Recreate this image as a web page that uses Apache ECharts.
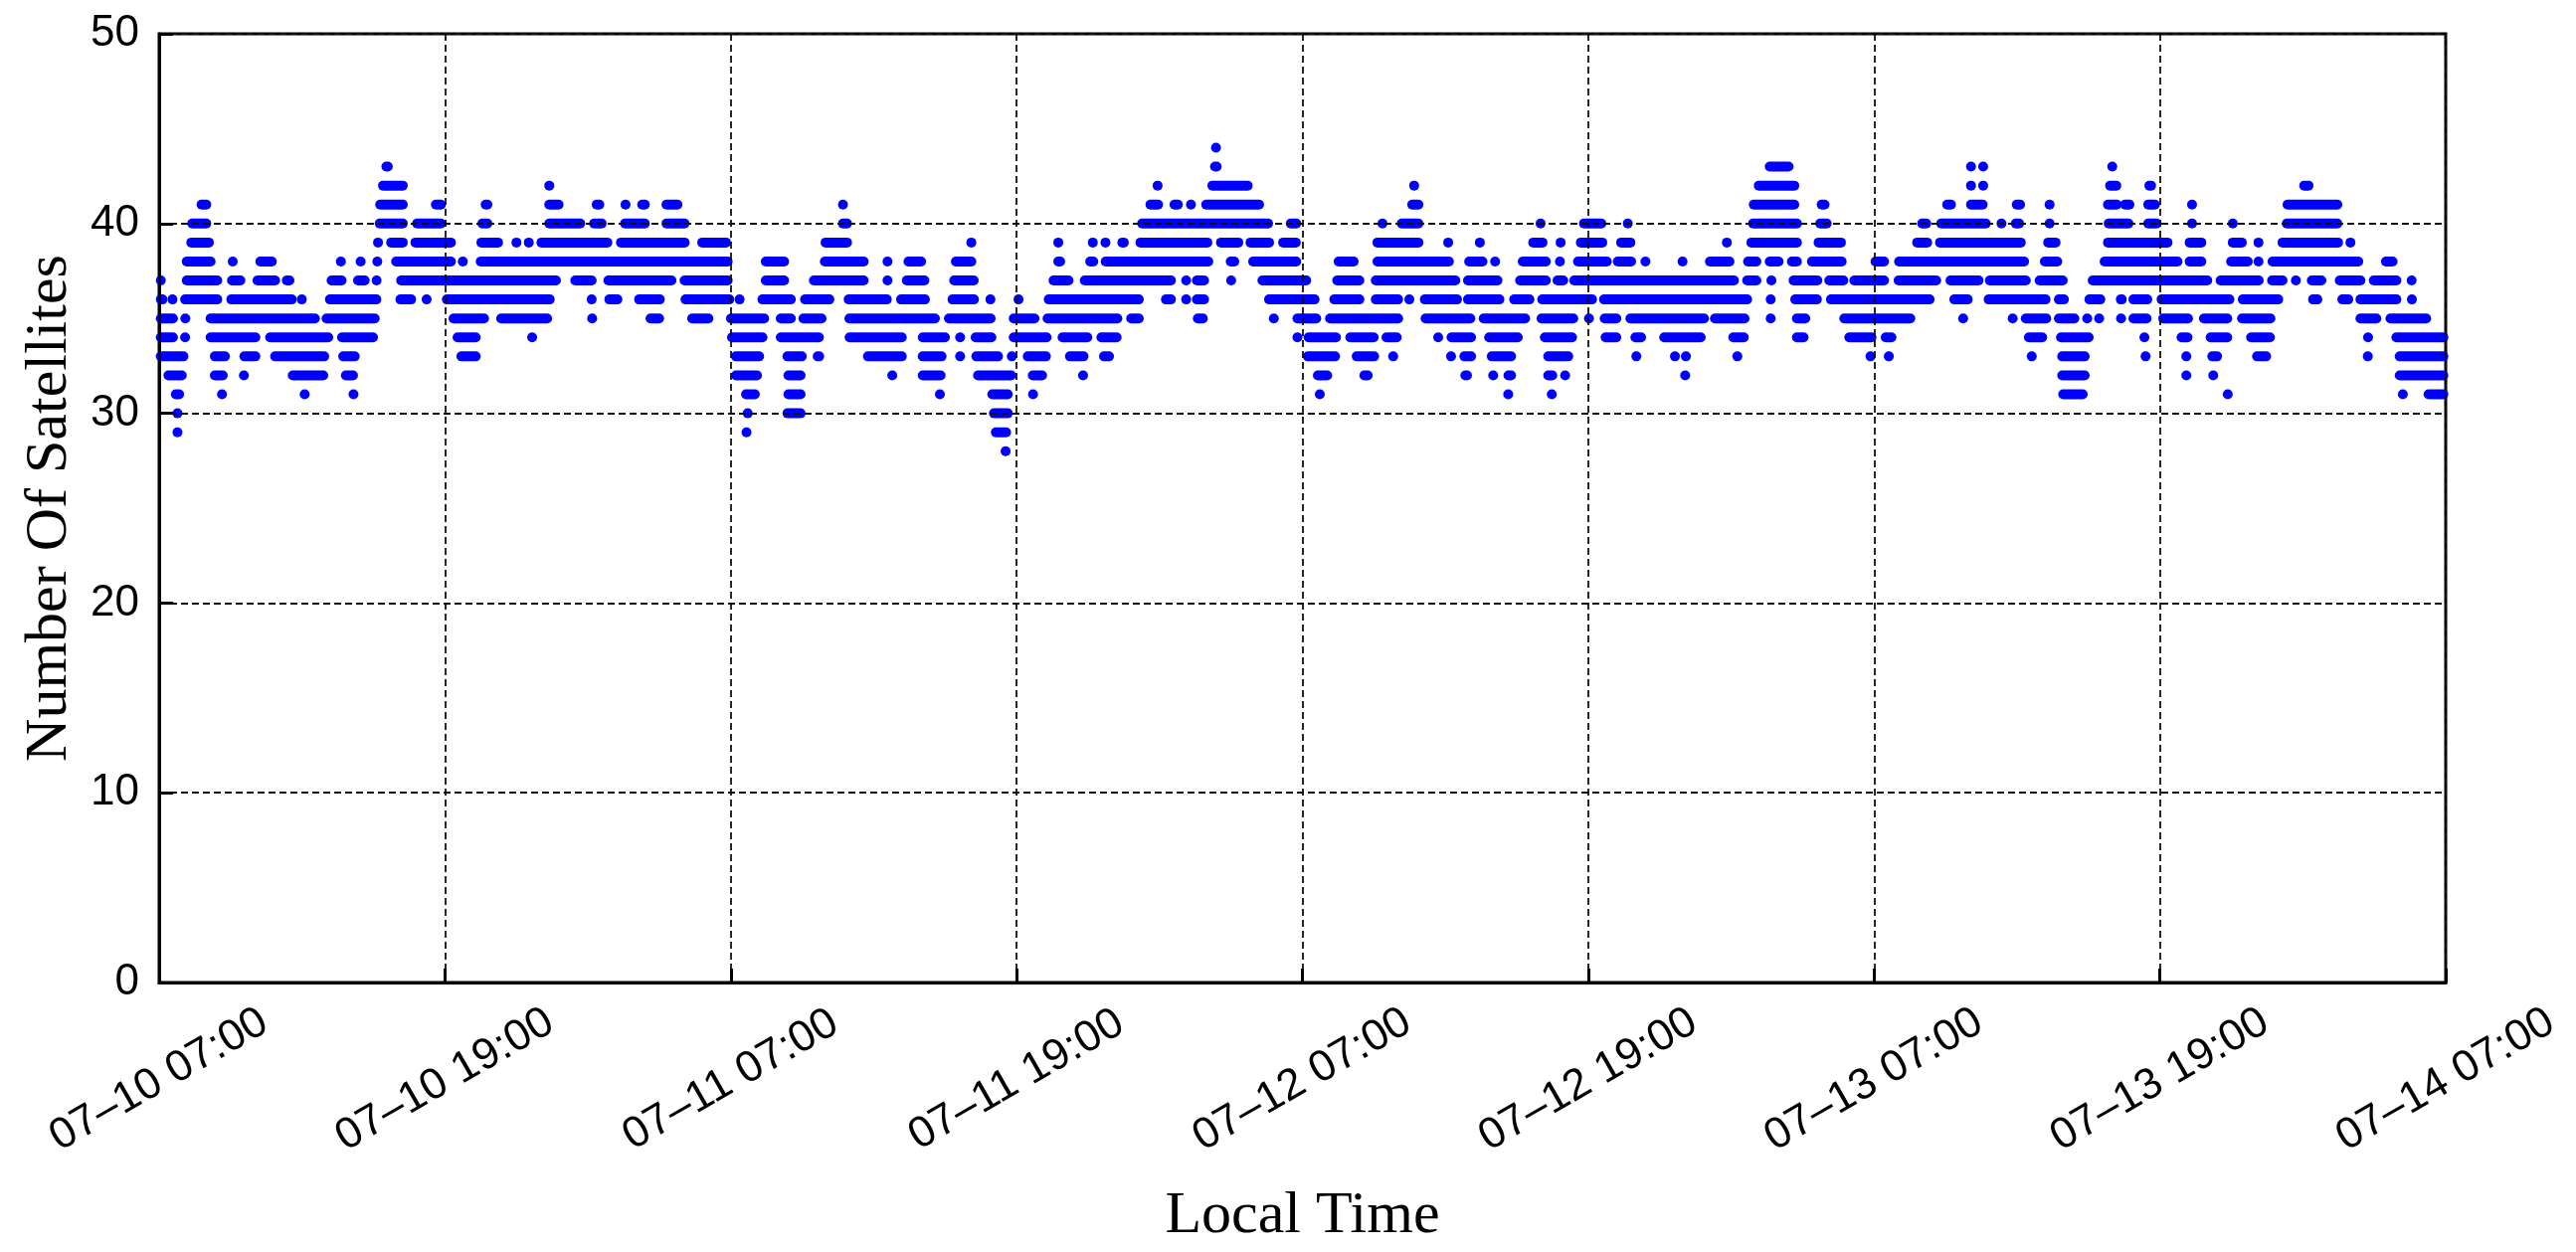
<!DOCTYPE html>
<html>
<head>
<meta charset="utf-8">
<script src="https://cdn.jsdelivr.net/npm/echarts@6/dist/echarts.min.js"></script>
<style>
html,body{margin:0;padding:0;background:#fff;}
#chart{width:2590px;height:1259px;}
</style>
</head>
<body>
<div id="chart"></div>
<script>
// Time in hours since 07-10 07:00 (local). Each entry: [first sample, last sample] of a run at that satellite count.
const xTickLabels = ['07\u201310 07:00','07\u201310 19:00','07\u201311 07:00','07\u201311 19:00','07\u201312 07:00','07\u201312 19:00','07\u201313 07:00','07\u201313 19:00','07\u201314 07:00'];

const sats44 = [[44.37,44.37]];
const sats43 = [[9.54,9.60],[44.33,44.40],[67.62,68.41],[76.07,76.07],[76.58,76.58],[82.00,82.00]];
const sats42 = [[9.40,10.23],[16.38,16.38],[41.92,41.92],[44.22,45.70],[52.69,52.69],[67.16,68.65],[76.07,76.07],[76.58,76.58],[81.91,82.17],[83.56,83.63],[90.06,90.24]];
const sats41 = [[1.78,1.98],[9.28,10.23],[11.62,11.83],[13.71,13.78],[16.38,16.77],[18.37,18.48],[19.58,19.58],[20.28,20.39],[21.30,21.76],[28.71,28.71],[41.62,41.94],[42.63,42.77],[43.32,43.32],[43.96,46.18],[52.61,52.87],[66.95,68.65],[69.80,69.92],[75.07,75.23],[76.07,76.56],[77.99,78.13],[79.37,79.37],[81.82,82.19],[82.54,82.72],[83.51,83.79],[85.35,85.35],[89.36,91.45]];
const sats40 = [[1.39,1.98],[9.26,10.23],[10.83,11.83],[13.57,13.78],[16.38,17.68],[18.26,18.58],[19.56,20.39],[21.30,22.06],[28.71,28.88],[41.27,46.56],[47.51,47.74],[51.36,51.36],[52.17,52.87],[58.00,58.00],[59.82,60.55],[61.66,61.66],[66.92,68.76],[69.74,70.01],[74.02,74.19],[74.82,76.69],[77.35,77.35],[77.95,78.09],[79.37,79.37],[81.85,82.68],[83.51,83.86],[85.35,85.35],[87.06,87.06],[89.33,91.45]];
const sats39 = [[1.35,2.09],[9.19,9.19],[9.74,10.23],[10.76,12.25],[13.53,14.23],[15.00,15.00],[15.52,15.52],[16.05,18.82],[19.39,22.06],[22.80,23.80],[27.98,28.88],[34.10,34.10],[37.75,37.75],[39.20,39.20],[39.73,39.73],[40.44,40.50],[41.20,44.01],[44.58,45.31],[45.82,46.60],[47.19,47.72],[51.15,52.87],[54.12,54.12],[55.45,55.45],[57.69,58.08],[58.84,58.84],[59.69,60.59],[61.38,61.77],[65.82,65.82],[66.85,68.76],[69.67,70.61],[73.81,74.23],[74.77,78.16],[79.31,79.62],[81.82,84.32],[85.25,85.74],[87.06,87.44],[88.14,88.14],[89.15,91.48],[92.00,92.00]];
const sats38 = [[1.16,2.16],[3.09,3.09],[4.25,4.73],[7.63,7.63],[8.46,8.46],[9.16,9.16],[9.95,12.25],[12.75,12.75],[13.50,23.87],[25.47,26.24],[27.95,29.58],[30.58,30.58],[31.46,31.99],[33.45,34.10],[37.75,37.83],[39.09,39.22],[39.74,44.05],[44.99,45.14],[45.93,47.74],[49.52,50.15],[51.15,54.15],[55.00,55.56],[56.09,56.09],[57.25,58.22],[58.81,58.81],[59.57,60.78],[61.24,61.80],[62.40,62.40],[63.96,63.96],[65.11,65.93],[66.71,67.06],[67.62,67.99],[68.55,68.76],[69.39,70.64],[72.06,72.42],[73.05,78.30],[79.17,79.69],[81.68,84.74],[85.25,85.74],[86.99,87.69],[88.14,88.14],[88.73,92.33],[93.49,93.77]];
const sats37 = [[0.07,0.07],[1.16,2.44],[3.06,3.41],[4.13,4.87],[5.36,5.47],[7.24,7.66],[8.35,8.63],[9.13,9.13],[10.16,16.66],[17.47,18.16],[18.86,21.51],[22.06,23.87],[25.47,26.24],[27.49,29.58],[30.58,30.58],[31.39,32.13],[33.38,34.20],[37.55,38.18],[38.86,42.48],[43.12,43.12],[43.57,43.87],[45.01,45.01],[46.32,48.16],[49.46,50.39],[51.08,54.42],[54.95,56.19],[57.14,58.22],[58.71,58.95],[59.41,66.12],[66.67,67.06],[67.69,67.69],[68.62,69.62],[70.12,70.71],[71.17,72.42],[73.03,74.61],[75.21,76.39],[76.86,78.37],[78.95,79.92],[81.18,85.99],[86.55,88.15],[88.71,89.15],[89.71,89.71],[90.38,90.78],[91.55,92.42],[92.98,93.93],[94.57,94.57]];
const sats36 = [[0.07,0.14],[0.56,0.56],[1.09,2.44],[3.03,5.57],[5.99,5.99],[7.17,9.12],[10.13,10.58],[11.23,11.23],[12.08,16.40],[18.16,18.16],[18.90,19.24],[20.15,21.02],[22.10,23.94],[24.37,24.37],[25.33,26.52],[27.12,28.14],[28.95,30.55],[31.15,32.15],[33.31,34.21],[34.90,34.90],[36.08,36.08],[37.35,41.13],[42.27,42.48],[43.12,43.12],[43.57,43.87],[46.60,48.51],[49.34,50.39],[51.08,52.02],[52.49,52.49],[53.14,54.49],[54.95,56.27],[56.89,57.53],[58.07,60.16],[60.66,66.67],[67.66,67.66],[68.69,69.60],[70.19,74.33],[75.37,75.93],[76.81,79.20],[79.76,79.97],[81.04,81.50],[82.36,82.40],[82.89,83.47],[84.07,86.92],[87.48,88.97],[90.43,90.61],[91.66,91.91],[92.42,93.93],[94.58,94.58]];
const sats35 = [[0.07,0.58],[1.10,1.10],[2.16,6.54],[7.03,9.05],[12.36,13.64],[14.36,16.29],[18.18,18.18],[20.63,20.99],[22.38,23.06],[24.01,25.40],[26.10,26.52],[27.05,27.81],[28.98,32.57],[33.16,34.91],[35.88,36.75],[37.30,40.23],[40.81,41.13],[43.61,43.82],[46.80,46.80],[47.79,48.58],[49.16,52.02],[53.17,55.05],[55.61,57.35],[58.04,59.37],[60.03,60.03],[60.69,61.18],[61.77,64.86],[65.32,66.56],[67.66,67.66],[68.76,69.11],[70.75,73.52],[75.74,75.74],[77.82,77.82],[78.37,79.23],[79.76,80.41],[80.95,80.95],[81.45,81.45],[82.37,82.37],[82.89,83.44],[84.14,85.18],[85.85,86.83],[87.45,88.64],[92.42,93.09],[93.68,95.18]];
const sats34 = [[0.07,0.58],[1.09,1.09],[2.16,4.04],[4.66,7.10],[7.68,8.98],[12.53,13.29],[15.66,15.66],[24.05,25.33],[26.10,27.70],[28.99,31.18],[32.06,32.99],[33.63,33.63],[34.28,34.94],[35.88,37.26],[37.93,38.97],[39.56,40.20],[47.79,47.79],[48.26,49.41],[50.01,50.99],[51.53,51.96],[53.70,53.70],[54.26,55.08],[55.84,57.04],[58.18,59.32],[60.73,61.18],[61.98,62.22],[63.19,64.72],[66.09,66.53],[68.76,69.04],[70.96,71.89],[72.49,72.73],[78.50,79.06],[79.85,81.01],[83.35,83.35],[84.91,85.16],[86.13,86.83],[87.83,88.62],[92.74,92.74],[93.93,95.90]];
const sats33 = [[0.07,1.02],[2.34,2.76],[3.58,4.04],[4.87,6.93],[7.73,8.21],[12.69,13.29],[24.22,25.19],[26.38,26.98],[27.65,27.71],[29.76,31.18],[32.06,32.85],[33.63,33.63],[34.31,35.22],[35.80,35.80],[36.47,37.23],[38.24,38.81],[39.67,39.88],[48.23,49.37],[50.28,51.01],[51.81,51.81],[54.24,54.24],[54.80,55.08],[55.95,56.76],[58.32,59.16],[62.02,62.02],[63.64,63.64],[64.10,64.10],[66.26,66.26],[71.85,71.85],[72.62,72.62],[78.62,78.62],[79.90,80.84],[83.40,83.40],[85.11,85.11],[86.20,86.40],[88.08,88.46],[92.73,92.73],[94.07,95.90]];
const sats32 = [[0.39,0.95],[2.34,2.67],[3.56,3.56],[5.61,6.89],[7.84,8.14],[24.22,25.10],[26.42,26.93],[30.78,30.78],[32.06,32.81],[34.38,35.77],[36.68,37.07],[38.79,38.79],[48.65,49.04],[50.60,50.74],[54.84,54.91],[56.01,56.01],[56.65,56.76],[58.32,58.49],[59.03,59.03],[64.07,64.07],[79.90,80.84],[85.11,85.11],[86.24,86.24],[94.07,95.90]];
const sats31 = [[0.70,0.84],[2.64,2.64],[6.11,6.11],[8.16,8.16],[24.64,25.01],[26.42,26.93],[32.78,32.78],[34.98,35.63],[36.69,36.69],[48.73,48.73],[56.64,56.64],[58.47,58.47],[79.94,80.76],[86.85,86.85],[94.20,94.20],[95.28,95.90]];
const sats30 = [[0.77,0.77],[24.71,24.71],[26.38,26.93],[35.05,35.63]];
const sats29 = [[0.77,0.77],[24.66,24.66],[35.13,35.56]];
const sats28 = [[35.54,35.54]];

const levels = [44,43,42,41,40,39,38,37,36,35,34,33,32,31,30,29,28];
const runsByLevel = [sats44,sats43,sats42,sats41,sats40,sats39,sats38,sats37,sats36,sats35,sats34,sats33,sats32,sats31,sats30,sats29,sats28];

const data = [];
levels.forEach((lv, i) => {
  runsByLevel[i].forEach(r => data.push([lv, r[0], r[1]]));
});

const DOT = 10;
function renderItem(params, api) {
  const lv = api.value(0), s = api.value(1), e = api.value(2);
  const p1 = api.coord([s, lv]);
  const p2 = api.coord([e, lv]);
  const r = DOT / 2;
  return {
    type: 'rect',
    shape: { x: p1[0] - r, y: p1[1] - r, width: (p2[0] - p1[0]) + 2 * r, height: 2 * r, r: r },
    style: { fill: '#0000ff' }
  };
}

const chart = echarts.init(document.getElementById('chart'), null, { renderer: 'canvas' });
const tickFont = 'Liberation Sans';
chart.setOption({
  animation: false,
  backgroundColor: '#ffffff',
  grid: { left: 160, right: 131, top: 34, bottom: 271, show: true, borderColor: '#000', borderWidth: 3, backgroundColor: 'transparent' },
  xAxis: {
    type: 'value', min: 0, max: 96, interval: 12, z: 5,
    axisLine: { show: true, lineStyle: { color: '#000', width: 3 } },
    axisTick: { show: true, inside: true, length: 14, lineStyle: { color: '#000', width: 3 } },
    splitLine: { show: true, lineStyle: { color: '#111', width: 1.8, type: [7, 4] } },
    axisLabel: {
      formatter: v => xTickLabels[Math.round(v / 12)],
      rotate: 30, align: 'center', verticalAlign: 'middle', margin: 98,
      fontSize: 44, fontFamily: tickFont, color: '#000',
      showMinLabel: true, showMaxLabel: true
    },
    name: 'Local Time', nameLocation: 'middle', nameGap: 205,
    nameTextStyle: { fontFamily: 'Liberation Serif', fontSize: 60, color: '#000' }
  },
  yAxis: {
    type: 'value', min: 0, max: 50, interval: 10, z: 5,
    axisLine: { show: true, lineStyle: { color: '#000', width: 3 } },
    axisTick: { show: true, inside: true, length: 14, lineStyle: { color: '#000', width: 3 } },
    splitLine: { show: true, lineStyle: { color: '#111', width: 1.8, type: [7, 4] } },
    axisLabel: { margin: 20, fontSize: 44, fontFamily: tickFont, color: '#000' },
    name: 'Number Of Satellites', nameLocation: 'middle', nameGap: 80,
    nameTextStyle: { fontFamily: 'Liberation Serif', fontSize: 60, color: '#000' }
  },
  series: [{
    type: 'custom', renderItem: renderItem, data: data, z: 2,
    encode: { x: [1, 2], y: 0 }
  }]
});
</script>
</body>
</html>
